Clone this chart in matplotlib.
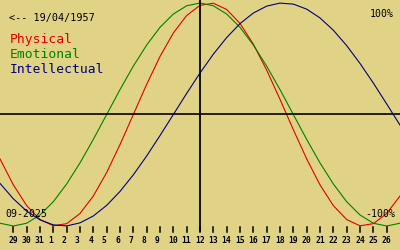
import matplotlib
matplotlib.use('Agg')
import matplotlib.pyplot as plt
import matplotlib.transforms as mtransforms

# days shown, 28 Aug .. 27 Sep 2025
days = ['28', '29', '30', '31'] + [str(d) for d in range(1, 28)]
today = '12'

# one value per day (-1 .. 1)
physical = [-0.398, -0.631, -0.817, -0.942, -0.998, -0.979, -0.888, -0.731,
            -0.520, -0.270, 0.0, 0.270, 0.520, 0.731, 0.888, 0.979,
            0.998, 0.942, 0.817, 0.631, 0.398, 0.136, -0.136, -0.398,
            -0.631, -0.817, -0.942, -0.998, -0.979, -0.888, -0.731]
emotional = [-0.975, -1.0, -0.975, -0.901, -0.782, -0.623, -0.434, -0.223,
             0.0, 0.223, 0.434, 0.623, 0.782, 0.901, 0.975, 1.0,
             0.975, 0.901, 0.782, 0.623, 0.434, 0.223, 0.0, -0.223,
             -0.434, -0.623, -0.782, -0.901, -0.975, -1.0, -0.975]
intellectual = [-0.618, -0.756, -0.866, -0.945, -0.990, -0.999, -0.972, -0.910,
                -0.815, -0.690, -0.541, -0.372, -0.189, 0.0, 0.189, 0.372,
                0.541, 0.690, 0.815, 0.910, 0.972, 0.999, 0.990, 0.945,
                0.866, 0.756, 0.618, 0.458, 0.282, 0.095, -0.095]

series = ['Physical', 'Emotional', 'Intellectual']
colors = ['#e00000', '#008000', '#000080']

bg = '#e1d386'
mono = 'DejaVu Sans Mono'

fig = plt.figure(figsize=(4, 2.5), dpi=100, facecolor=bg)
ax = fig.add_axes([0, 24 / 250, 1, 226 / 250])
ax.set_facecolor(bg)

x = list(range(len(days)))
for vals, c in zip([physical, emotional, intellectual], colors):
    ax.plot(x, vals, color=c, lw=0.8, clip_on=False)

ax.axhline(0, color='black', lw=1.2)
ax.axvline(days.index(today), ymin=-0.022, color='black', lw=1.3, clip_on=False)

ax.set_xlim(0, len(days) - 1)
ax.set_ylim(-1.0, 1.0269)
for s in ax.spines.values():
    s.set_visible(False)
ax.set_yticks([])
ax.set_xticks(x[1:-1])
ax.set_xticklabels(days[1:-1], fontfamily=mono, fontsize=5.8, fontweight='bold')
ax.tick_params(axis='x', length=0, pad=7.5)
offset = mtransforms.ScaledTranslation(-5 / 100, 0, fig.dpi_scale_trans)
for lab in ax.get_xticklabels():
    lab.set_ha('left')
    lab.set_transform(lab.get_transform() + offset)
# tick marks drawn one by one just under the plot
for xi in x[1:-1]:
    ax.axvline(xi, ymin=-0.028, ymax=-0.004, color='black', lw=1.1,
               clip_on=False, zorder=5)

def px(xp, yp):
    return xp / 400, 1 - yp / 250

fig.text(*px(9, 20.7), '<-- 19/04/1957', fontfamily=mono, fontsize=7.3, va='baseline')
for i, (name, c) in enumerate(zip(series, colors)):
    fig.text(*px(9.5, 42.7 + 15 * i), name, color=c, fontfamily=mono, fontsize=9.4, va='baseline')
fig.text(*px(394, 16.7), '100%', fontfamily=mono, fontsize=7.1, ha='right', va='baseline')
fig.text(*px(395, 216.7), '-100%', fontfamily=mono, fontsize=7.1, ha='right', va='baseline')
fig.text(*px(5, 216.7), '09-2025', fontfamily=mono, fontsize=7.1, va='baseline')

fig.savefig('out.png', dpi=100, facecolor=bg)
